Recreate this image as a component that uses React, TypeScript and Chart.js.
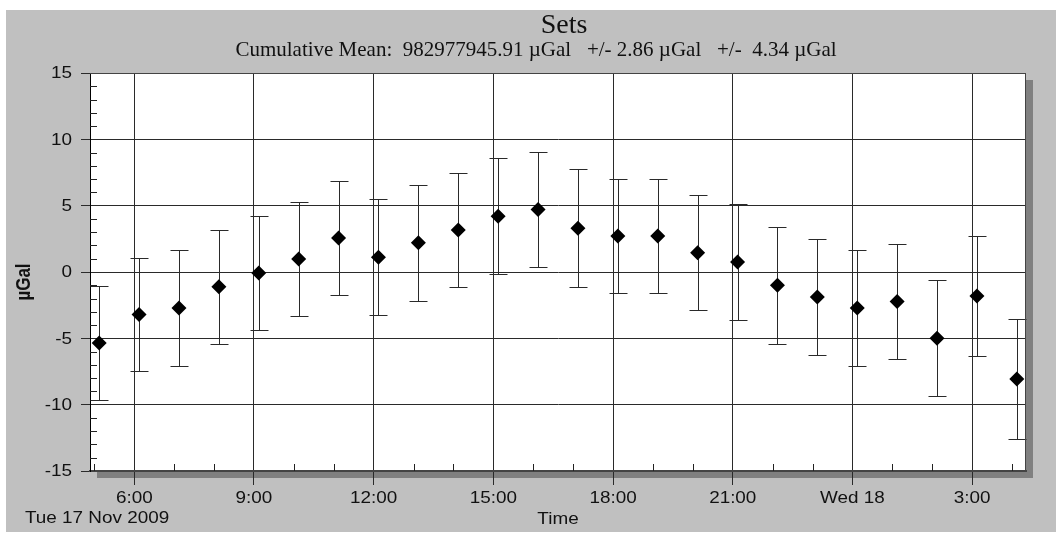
import React, { useEffect, useRef } from "react";
import { Chart, registerables } from "chart.js";

Chart.register(...registerables);

// Hours since Tue 17 Nov 2009 00:00 (set mid-times)
const setHours = [5.12, 6.12, 7.12, 8.12, 9.12, 10.12, 11.12, 12.12, 13.12, 14.12, 15.12, 16.12, 17.12, 18.12, 19.12, 20.12, 21.12, 22.12, 23.12, 24.12, 25.12, 26.12, 27.12, 28.12];
// Set mean gravity offsets (µGal)
const setValues = [-5.35, -3.2, -2.71, -1.11, -0.08, 0.98, 2.56, 1.12, 2.2, 3.16, 4.2, 4.72, 3.3, 2.72, 2.72, 1.45, 0.75, -1.0, -1.88, -2.72, -2.22, -5.0, -1.8, -8.07];
// Error bar half-widths (µGal)
const setErrors = [4.31, 4.27, 4.34, 4.31, 4.32, 4.31, 4.32, 4.36, 4.36, 4.31, 4.36, 4.35, 4.43, 4.32, 4.32, 4.35, 4.37, 4.39, 4.37, 4.36, 4.31, 4.37, 4.52, 4.55];

const xMin = 4.89;
const xMax = 28.35;
const xTickValues = [6, 9, 12, 15, 18, 21, 24, 27];
const xTickLabels = ["6:00", "9:00", "12:00", "15:00", "18:00", "21:00", "Wed 18", "3:00"];
const yTickValues = [-15, -10, -5, 0, 5, 10, 15];
const yTickLabels = ["-15", "-10", "-5", "0", "5", "10", "15"];

const titleText = "Sets";
const subtitleText = "Cumulative Mean:  982977945.91 \u00b5Gal   +/- 2.86 \u00b5Gal   +/-  4.34 \u00b5Gal";
const yAxisTitle = "\u00b5Gal";
const xAxisTitle = "Time";
const dateLabel = "Tue 17 Nov 2009";

const SX = 1.18;
const SANS = '"Liberation Sans", Arial, sans-serif';
const SERIF = '"Liberation Serif", "Times New Roman", serif';
const TEXT = "#111";

function drawText(ctx: CanvasRenderingContext2D, text: string, x: number, y: number, font: string, align: CanvasTextAlign, rotate = false, sx = SX) {
  ctx.save();
  ctx.translate(x, y);
  ctx.scale(sx, 1);
  if (rotate) ctx.rotate(-Math.PI / 2);
  ctx.font = font;
  ctx.fillStyle = TEXT;
  ctx.textAlign = align;
  ctx.textBaseline = "middle";
  ctx.fillText(text, 0, 0);
  ctx.restore();
}

const framePlugin = {
  id: "frame",
  beforeDraw(chart: any) {
    const { ctx, chartArea: a } = chart;
    ctx.save();
    ctx.fillStyle = "#808080";
    ctx.fillRect(a.left + 7, a.top + 7, a.right - a.left, a.bottom - a.top);
    ctx.fillStyle = "#ffffff";
    ctx.fillRect(a.left, a.top, a.right - a.left, a.bottom - a.top);
    ctx.restore();
  },
  beforeDatasetsDraw(chart: any) {
    const { ctx } = chart;
    const xs = chart.scales.x;
    const ys = chart.scales.y;
    ctx.save();
    ctx.strokeStyle = "#2a2a2a";
    ctx.lineWidth = 1;
    setHours.forEach((h, i) => {
      const px = Math.round(xs.getPixelForValue(h)) + 0.5;
      const top = Math.round(ys.getPixelForValue(setValues[i] + setErrors[i])) + 0.5;
      const bot = Math.round(ys.getPixelForValue(setValues[i] - setErrors[i])) + 0.5;
      ctx.beginPath();
      ctx.moveTo(px, top);
      ctx.lineTo(px, bot);
      ctx.moveTo(px - 9, top);
      ctx.lineTo(px + 9, top);
      ctx.moveTo(px - 9, bot);
      ctx.lineTo(px + 9, bot);
      ctx.stroke();
    });
    ctx.restore();
  },
  afterDraw(chart: any) {
    const { ctx, chartArea: a, width } = chart;
    const xs = chart.scales.x;
    const ys = chart.scales.y;
    ctx.save();
    ctx.strokeStyle = "#444";
    ctx.lineWidth = 1;
    ctx.beginPath();
    ctx.moveTo(a.left, Math.round(a.top) + 0.5);
    ctx.lineTo(a.right, Math.round(a.top) + 0.5);
    ctx.moveTo(Math.round(a.right) - 0.5, a.top);
    ctx.lineTo(Math.round(a.right) - 0.5, a.bottom);
    ctx.stroke();
    ctx.strokeStyle = "#222";
    ctx.beginPath();
    for (let h = Math.ceil(xMin); h <= Math.floor(xMax); h++) {
      if (xTickValues.includes(h)) continue;
      const px = Math.round(xs.getPixelForValue(h)) + 0.5;
      ctx.moveTo(px, a.bottom);
      ctx.lineTo(px, a.bottom - 7);
    }
    for (let v = -14; v <= 14; v++) {
      if (v % 5 === 0) continue;
      const py = Math.round(ys.getPixelForValue(v)) + 0.5;
      ctx.moveTo(a.left, py);
      ctx.lineTo(a.left + 7, py);
    }
    ctx.stroke();
    ctx.restore();

    const tickFont = `16px ${SANS}`;
    yTickValues.forEach((v, i) => {
      drawText(ctx, yTickLabels[i], a.left - 18, ys.getPixelForValue(v) + 1, tickFont, "right");
    });
    xTickValues.forEach((v, i) => {
      drawText(ctx, xTickLabels[i], xs.getPixelForValue(v), a.bottom + 28, tickFont, "center");
    });
    drawText(ctx, dateLabel, a.left - 65, a.bottom + 48, tickFont, "left");
    drawText(ctx, xAxisTitle, (a.left + a.right) / 2, a.bottom + 49, tickFont, "center");
    drawText(ctx, yAxisTitle, a.left - 65.5, (a.top + a.bottom) / 2 + 10, `bold 17px ${SANS}`, "center", true);
    drawText(ctx, titleText, width / 2 + 33, 16, `28px ${SERIF}`, "center", false, 1);
    drawText(ctx, subtitleText, width / 2 + 5, 40, `21px ${SERIF}`, "center", false, 1);
  },
};

export default function App() {
  const ref = useRef<HTMLCanvasElement | null>(null);
  useEffect(() => {
    if (!ref.current) return;
    const chart = new Chart(ref.current, {
      type: "scatter",
      data: {
        datasets: [
          {
            data: setHours.map((h, i) => ({ x: h, y: setValues[i] })),
            pointStyle: "rectRot",
            pointRadius: 7.5,
            pointHoverRadius: 7.5,
            backgroundColor: "#000",
            borderColor: "#000",
            borderWidth: 0,
          },
        ],
      },
      options: {
        animation: false,
        responsive: false,
        events: [],
        layout: { padding: { top: 63, right: 30, left: 0, bottom: 0 } },
        plugins: { legend: { display: false }, tooltip: { enabled: false }, title: { display: false } },
        scales: {
          x: {
            type: "linear",
            min: xMin,
            max: xMax,
            afterBuildTicks: (s: any) => {
              s.ticks = xTickValues.map((v) => ({ value: v }));
            },
            afterFit: (s: any) => {
              s.height = 61;
            },
            ticks: { display: false },
            grid: { color: "#2a2a2a", lineWidth: 1, tickLength: 14, drawTicks: true },
            border: { display: true, color: "#444", width: 2 },
          },
          y: {
            type: "linear",
            min: -15,
            max: 15,
            afterBuildTicks: (s: any) => {
              s.ticks = yTickValues.map((v) => ({ value: v }));
            },
            afterFit: (s: any) => {
              s.width = 84;
            },
            ticks: { display: false },
            grid: { color: "#2a2a2a", lineWidth: 1, tickLength: 9, drawTicks: true },
            border: { display: true, color: "#000", width: 1 },
          },
        },
      },
      plugins: [framePlugin],
    });
    return () => chart.destroy();
  }, []);

  return (
    <div style={{ position: "fixed", left: 0, top: 0, width: 1056, height: 533, background: "#fff" }}>
      <div style={{ position: "absolute", left: 6, top: 10, width: 1050, height: 522, background: "#c0c0c0" }}>
        <canvas ref={ref} width={1050} height={522} style={{ display: "block" }} />
      </div>
    </div>
  );
}
